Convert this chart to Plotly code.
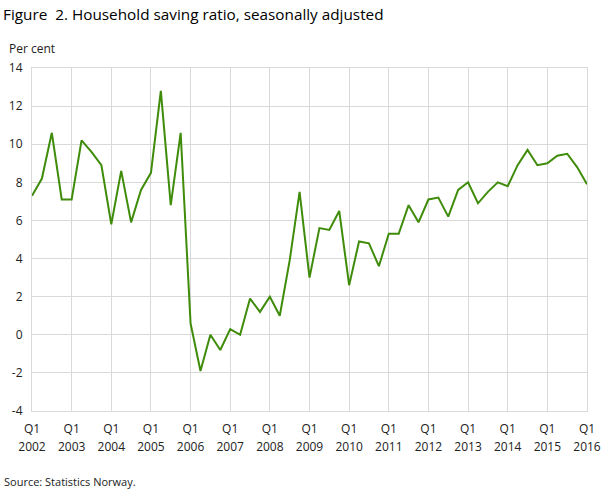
import plotly.graph_objects as go

years = list(range(2002, 2017))
quarters = [f"{y}Q{q}" for y in years for q in range(1, 5)][:57]

saving_ratio = [
    7.3, 8.2, 10.6, 7.1,
    7.1, 10.2, 9.6, 8.9,
    5.8, 8.6, 5.9, 7.6,
    8.5, 12.8, 6.8, 10.6,
    0.6, -1.9, 0.0, -0.8,
    0.3, 0.0, 1.9, 1.2,
    2.0, 1.0, 3.9, 7.5,
    3.0, 5.6, 5.5, 6.5,
    2.6, 4.9, 4.8, 3.6,
    5.3, 5.3, 6.8, 5.9,
    7.1, 7.2, 6.2, 7.6,
    8.0, 6.9, 7.5, 8.0,
    7.8, 8.9, 9.7, 8.9,
    9.0, 9.4, 9.5, 8.8,
    7.9,
]

x_tick_vals = [quarters[i] for i in range(0, 57, 4)]
# base tick font is 13.5px so the two lines sit ~17.5px apart,
# while each line itself is drawn at 12px
x_tick_text = [
    f"<span style='font-size:12px'>Q1</span><br>"
    f"<span style='font-size:12px'>{y}</span>"
    for y in years
]
y_tick_vals = list(range(-4, 15, 2))
y_tick_text = [str(v) for v in y_tick_vals]

font = "Open Sans, sans-serif"
grid = "#d9d9d9"
label_color = "#222222"

# plot area in pixels
left, right, top, bottom = 32, 587, 68, 411
W, H = 609, 489


def px_x(x):
    return (x - left) / (right - left)


def px_y(y):
    return (bottom - y) / (bottom - top)


fig = go.Figure()
fig.add_trace(go.Scatter(
    x=quarters, y=saving_ratio, mode="lines",
    line=dict(color="#3f8c0a", width=2),
    showlegend=False,
))

fig.update_layout(
    width=W, height=H,
    margin=dict(l=left, r=W - right, t=top, b=H - bottom),
    paper_bgcolor="white", plot_bgcolor="white",
    font=dict(family=font, size=12, color="#333333"),
    title=dict(
        text="Figure  2. Household saving ratio, seasonally adjusted",
        x=3 / W, xanchor="left", xref="container",
        y=1 - 15 / H, yanchor="middle", yref="container",
        pad=dict(l=0, r=0, t=0, b=0),
        font=dict(family=font, size=15.3, color="#000000"),
    ),
    xaxis=dict(
        type="category", range=[0, 56], automargin=False,
        tickmode="array", tickvals=x_tick_vals, ticktext=x_tick_text,
        showgrid=True, gridcolor=grid, gridwidth=1,
        showline=True, linecolor=grid, mirror=True,
        ticks="", zeroline=False, ticklabelstandoff=5,
        tickfont=dict(size=13.5, color=label_color),
    ),
    yaxis=dict(
        range=[-4, 14], automargin=False,
        tickmode="array", tickvals=y_tick_vals, ticktext=y_tick_text,
        showgrid=True, gridcolor=grid, gridwidth=1,
        showline=True, linecolor=grid, mirror=True,
        zeroline=False, ticks="", ticklabelstandoff=6,
        tickfont=dict(size=12, color=label_color),
    ),
    annotations=[
        dict(text="Per cent", x=px_x(7), y=px_y(49), xref="paper", yref="paper",
             xanchor="left", yanchor="middle", showarrow=False,
             font=dict(family=font, size=12, color=label_color)),
        dict(text="Source: Statistics Norway.", x=px_x(2), y=px_y(481),
             xref="paper", yref="paper", xanchor="left", yanchor="middle",
             showarrow=False,
             font=dict(family=font, size=11, color=label_color)),
    ],
)

# drop the browser's default 8px body margin so the chart sits at 0,0
fig.write_html("out.html", config={"displayModeBar": False},
               post_script="document.body.style.margin = '0';")
